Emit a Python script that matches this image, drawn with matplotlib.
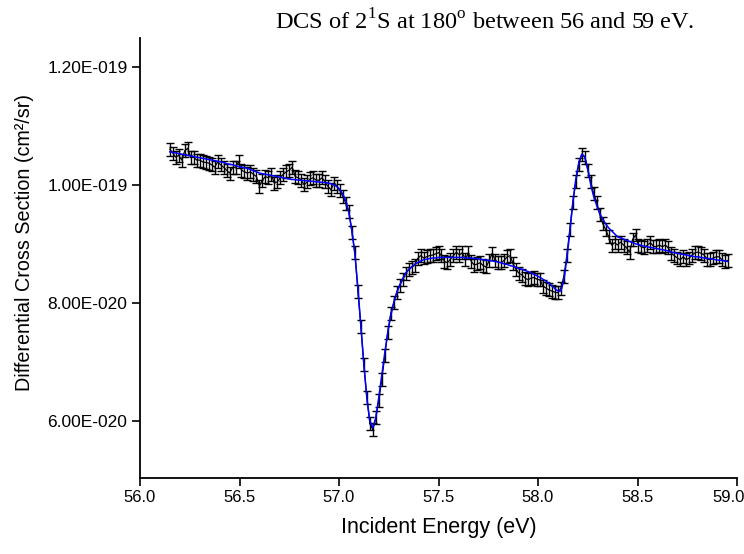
import matplotlib
matplotlib.use('Agg')
import matplotlib.pyplot as plt
import matplotlib.transforms as mtransforms
from matplotlib.ticker import FuncFormatter

plt.rcParams['font.family'] = ['Liberation Sans', 'DejaVu Sans']
plt.rcParams['mathtext.fontset'] = 'custom'
plt.rcParams['mathtext.rm'] = 'Liberation Serif'

# Incident energy (eV)
energy = [
    56.150, 56.165, 56.180, 56.195, 56.210, 56.225, 56.240, 56.255, 56.270, 56.285,
    56.300, 56.315, 56.330, 56.345, 56.360, 56.375, 56.390, 56.405, 56.420, 56.435,
    56.450, 56.465, 56.480, 56.495, 56.510, 56.525, 56.540, 56.555, 56.570, 56.585,
    56.600, 56.615, 56.630, 56.645, 56.660, 56.675, 56.690, 56.705, 56.720, 56.735,
    56.750, 56.765, 56.780, 56.795, 56.810, 56.825, 56.840, 56.855, 56.870, 56.885,
    56.900, 56.915, 56.930, 56.945, 56.960, 56.975, 56.990, 57.005, 57.020, 57.035,
    57.050, 57.065, 57.080, 57.095, 57.110, 57.125, 57.140, 57.155, 57.170, 57.185,
    57.200, 57.215, 57.230, 57.245, 57.260, 57.275, 57.290, 57.305, 57.320, 57.335,
    57.350, 57.365, 57.380, 57.395, 57.410, 57.425, 57.440, 57.455, 57.470, 57.485,
    57.500, 57.515, 57.530, 57.545, 57.560, 57.575, 57.590, 57.605, 57.620, 57.635,
    57.650, 57.665, 57.680, 57.695, 57.710, 57.725, 57.740, 57.755, 57.770, 57.785,
    57.800, 57.815, 57.830, 57.845, 57.860, 57.875, 57.890, 57.905, 57.920, 57.935,
    57.950, 57.965, 57.980, 57.995, 58.010, 58.025, 58.040, 58.055, 58.070, 58.085,
    58.100, 58.115, 58.130, 58.145, 58.160, 58.175, 58.190, 58.205, 58.220, 58.235,
    58.250, 58.265, 58.280, 58.295, 58.310, 58.325, 58.340, 58.355, 58.370, 58.385,
    58.400, 58.415, 58.430, 58.445, 58.460, 58.475, 58.490, 58.505, 58.520, 58.535,
    58.550, 58.565, 58.580, 58.595, 58.610, 58.625, 58.640, 58.655, 58.670, 58.685,
    58.700, 58.715, 58.730, 58.745, 58.760, 58.775, 58.790, 58.805, 58.820, 58.835,
    58.850, 58.865, 58.880, 58.895, 58.910, 58.925, 58.940, 58.955,
]

# measured DCS, units of 1e-20 cm^2/sr
dcs = [
    10.60, 10.54, 10.47, 10.50, 10.42, 10.58, 10.62, 10.46, 10.47, 10.42,
    10.42, 10.39, 10.38, 10.37, 10.34, 10.30, 10.39, 10.34, 10.30, 10.25,
    10.20, 10.29, 10.30, 10.39, 10.25, 10.22, 10.20, 10.22, 10.18, 10.14,
    9.98, 10.08, 10.14, 10.12, 10.17, 10.03, 10.05, 10.12, 10.18, 10.22,
    10.25, 10.30, 10.14, 10.12, 10.08, 10.00, 10.05, 10.10, 10.12, 10.08,
    10.08, 10.12, 10.05, 9.97, 9.92, 10.03, 9.97, 9.90, 9.80, 9.68,
    9.55, 9.20, 8.85, 8.20, 7.60, 6.95, 6.40, 5.95, 5.85, 6.05,
    6.35, 6.70, 7.10, 7.50, 7.82, 8.00, 8.18, 8.30, 8.39, 8.50,
    8.57, 8.60, 8.64, 8.75, 8.80, 8.76, 8.78, 8.80, 8.81, 8.83,
    8.85, 8.81, 8.70, 8.68, 8.74, 8.80, 8.86, 8.81, 8.85, 8.73,
    8.85, 8.70, 8.64, 8.66, 8.68, 8.63, 8.61, 8.72, 8.84, 8.72,
    8.69, 8.68, 8.72, 8.78, 8.80, 8.66, 8.56, 8.50, 8.47, 8.42,
    8.39, 8.42, 8.43, 8.40, 8.39, 8.28, 8.25, 8.22, 8.20, 8.18,
    8.17, 8.25, 8.45, 8.80, 9.25, 9.70, 10.05, 10.35, 10.52, 10.47,
    10.25, 10.05, 9.85, 9.70, 9.50, 9.35, 9.24, 9.12, 8.98, 9.02,
    8.98, 9.03, 8.98, 8.93, 8.86, 9.07, 9.15, 8.98, 8.95, 8.93,
    8.98, 9.02, 8.96, 8.95, 8.98, 8.95, 8.98, 8.93, 8.84, 8.80,
    8.76, 8.73, 8.78, 8.73, 8.76, 8.81, 8.85, 8.86, 8.84, 8.81,
    8.74, 8.73, 8.76, 8.78, 8.78, 8.73, 8.70, 8.72,
]
dcs_err = 0.11

# fitted curve, same energies
fit = [
    10.56, 10.55, 10.54, 10.53, 10.52, 10.51, 10.50, 10.49, 10.48, 10.47,
    10.46, 10.45, 10.44, 10.43, 10.42, 10.41, 10.40, 10.39, 10.38, 10.36,
    10.35, 10.34, 10.33, 10.31, 10.30, 10.29, 10.28, 10.26, 10.24, 10.22,
    10.20, 10.19, 10.18, 10.17, 10.16, 10.15, 10.14, 10.13, 10.12, 10.11,
    10.10, 10.09, 10.09, 10.08, 10.08, 10.07, 10.07, 10.06, 10.06, 10.05,
    10.05, 10.04, 10.04, 10.03, 10.02, 10.00, 9.97, 9.92, 9.84, 9.72,
    9.52, 9.22, 8.82, 8.25, 7.60, 6.95, 6.38, 6.00, 5.88, 6.05,
    6.40, 6.78, 7.15, 7.50, 7.78, 8.00, 8.17, 8.30, 8.41, 8.50,
    8.56, 8.61, 8.65, 8.68, 8.71, 8.73, 8.74, 8.75, 8.76, 8.76,
    8.77, 8.77, 8.77, 8.77, 8.77, 8.77, 8.77, 8.77, 8.77, 8.76,
    8.76, 8.76, 8.75, 8.75, 8.74, 8.73, 8.72, 8.72, 8.71, 8.70,
    8.69, 8.68, 8.66, 8.65, 8.63, 8.62, 8.60, 8.58, 8.57, 8.55,
    8.53, 8.51, 8.48, 8.46, 8.43, 8.40, 8.37, 8.33, 8.29, 8.24,
    8.20, 8.20, 8.38, 8.75, 9.20, 9.70, 10.10, 10.38, 10.52, 10.48,
    10.28, 10.00, 9.80, 9.65, 9.52, 9.42, 9.34, 9.27, 9.22, 9.17,
    9.12, 9.10, 9.08, 9.06, 9.04, 9.02, 9.00, 8.99, 8.97, 8.96,
    8.95, 8.94, 8.93, 8.92, 8.91, 8.90, 8.89, 8.88, 8.86, 8.85,
    8.84, 8.83, 8.82, 8.81, 8.80, 8.79, 8.78, 8.78, 8.77, 8.76,
    8.75, 8.75, 8.74, 8.73, 8.72, 8.72, 8.71, 8.70,
]

x_ticks = [56.0, 56.5, 57.0, 57.5, 58.0, 58.5, 59.0]
y_ticks = [6e-20, 8e-20, 1.0e-19, 1.2e-19]

scale = 1e-20
y = [v * scale for v in dcs]
y_fit = [v * scale for v in fit]


def sci_fmt(v, pos):
    mant, ex = f"{v:.2E}".split('E')
    ex = int(ex)
    sign = '-' if ex < 0 else ''
    return f"{mant}E{sign}{abs(ex):03d}"


fig = plt.figure(figsize=(7.44, 5.54), dpi=100)
ax = fig.add_axes([140 / 744, 1 - 478 / 554, 597 / 744, 440 / 554])

ax.errorbar(energy, y, yerr=dcs_err * scale, fmt='-', color='black',
            ecolor='black', lw=0.9, elinewidth=1.0, capsize=3, capthick=1.0)
ax.plot(energy, y_fit, color='#0000ff', lw=1.1, zorder=5)

ax.set_xlim(56.0, 59.0)
ax.set_ylim(5.03e-20, 1.249e-19)
ax.set_xticks(x_ticks)
ax.set_xticklabels([f"{t:.1f}" for t in x_ticks])
ax.set_yticks(y_ticks)
ax.yaxis.set_major_formatter(FuncFormatter(sci_fmt))

for s in ['top', 'right']:
    ax.spines[s].set_visible(False)
for s in ['left', 'bottom']:
    ax.spines[s].set_linewidth(1.3)
ax.tick_params(direction='out', length=6, width=1.2, labelsize=12.5, pad=3)
ax.tick_params(axis='x', labelsize=12)

# keep last x label inside the figure
last = ax.get_xticklabels()[-1]
last.set_transform(last.get_transform() +
                   mtransforms.ScaledTranslation(-8 / 100, 0, fig.dpi_scale_trans))

ax.set_xlabel('Incident Energy (eV)', fontsize=15.5, labelpad=8)
ax.set_ylabel('Differential Cross Section (cm²/sr)', fontsize=14.2)
ax.yaxis.set_label_coords(-0.178, 0.536)

fig.text(485 / 744, 1 - 22 / 554,
         r'DCS of 2$^{1}$S at 180$^{\mathrm{o}}$ between 56 and 59 eV.',
         family='Liberation Serif', fontsize=17.6, ha='center', va='center')

fig.savefig('out.png', dpi=100)
